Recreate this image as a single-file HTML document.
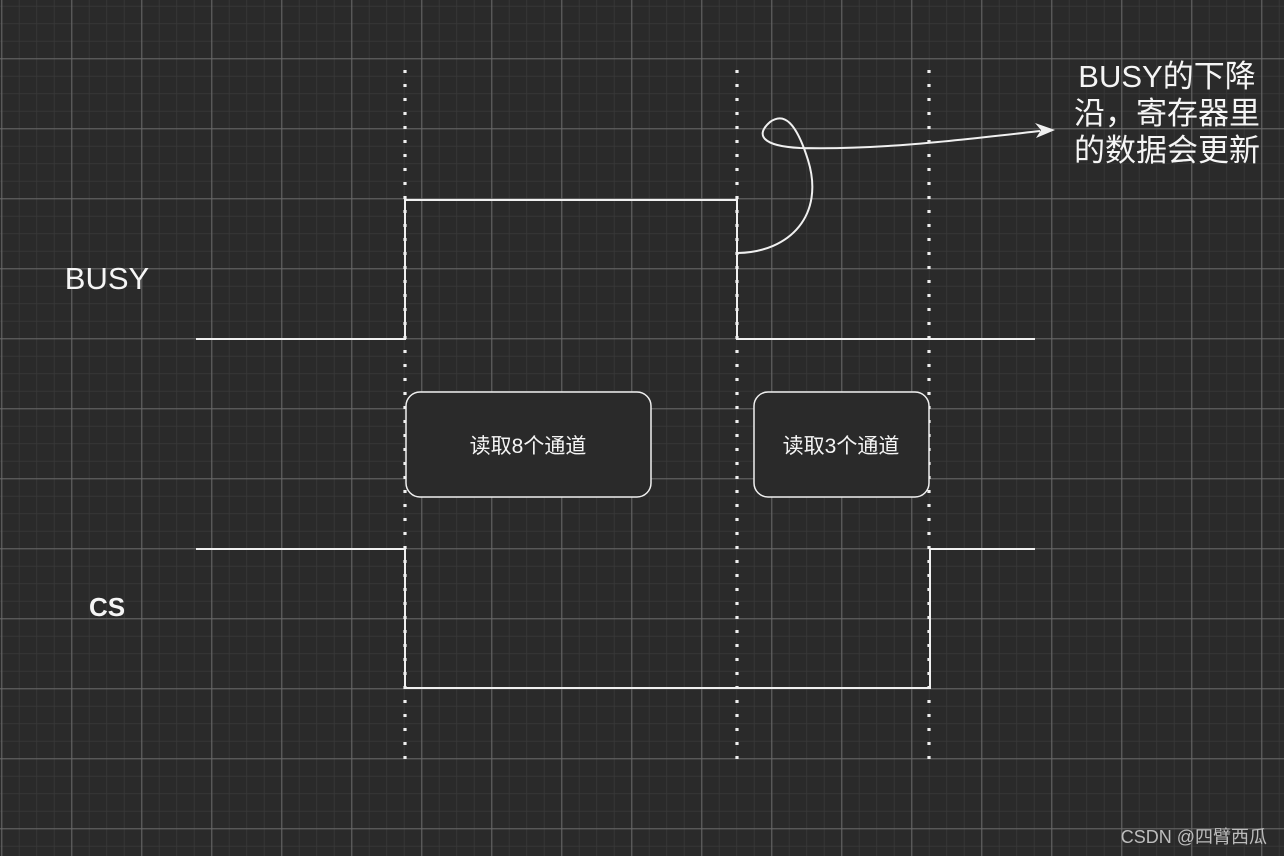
<!DOCTYPE html>
<html><head><meta charset="utf-8"><style>
html,body{margin:0;padding:0;background:#2a2a2a;}
svg{display:block}
</style></head><body>
<svg width="1284" height="856" xmlns="http://www.w3.org/2000/svg">
<defs>
<pattern id="minor" x="1.3" y="-11.7" width="17.5" height="17.5" patternUnits="userSpaceOnUse">
<path d="M0,0 H17.5 M0,0 V17.5" stroke="#3a3a3a" stroke-width="1.5" fill="none"/>
</pattern>
<pattern id="major" x="1.3" y="-11.7" width="70" height="70" patternUnits="userSpaceOnUse">
<path d="M0,0.5 H70 M0.5,0 V70" stroke="#6a6a6a" stroke-width="1" fill="none"/>
</pattern>
</defs>
<rect width="1284" height="856" fill="#2a2a2a"/>
<rect width="1284" height="856" fill="url(#minor)"/>
<rect width="1284" height="856" fill="url(#major)"/>
<g stroke="#f0f0f0" stroke-width="3.2" stroke-dasharray="3 11" fill="none">
<line x1="405" y1="70" x2="405" y2="760"/>
<line x1="737" y1="70" x2="737" y2="760"/>
<line x1="929" y1="70" x2="929" y2="760"/>
</g>
<g stroke="#f0f0f0" stroke-width="2" fill="none">
<path d="M196,339 H405 V200 H737 V339 H1035"/>
<path d="M196,549 H405 V688 H930 V549 H1035"/>
<path d="M738,253 C790,252 825,215 808,160 C796,122 784,112 770,122 C755,135 762,146 800,148 C880,150 960,140 1040,131"/>
<rect x="406" y="392" width="245" height="105" rx="14" fill="#2a2a2a" stroke-width="1.5"/>
<rect x="754" y="392" width="175" height="105" rx="14" fill="#2a2a2a" stroke-width="1.5"/>
</g>
<path d="M1055,130 L1036,138 L1041,130 L1035,123 Z" fill="#f0f0f0"/>
<g fill="#f5f5f5" font-family="Liberation Sans, Noto Sans CJK SC, sans-serif">
<text x="107" y="289" font-size="31" text-anchor="middle">BUSY</text>
<text x="107" y="616" font-size="26" font-weight="bold" text-anchor="middle">CS</text>
<text x="528" y="453" font-size="21" text-anchor="middle">读取8个通道</text>
<text x="841" y="453" font-size="21" text-anchor="middle">读取3个通道</text>
<text x="1167" y="87" font-size="31" text-anchor="middle">BUSY的下降</text>
<text x="1167" y="124" font-size="31" text-anchor="middle">沿，寄存器里</text>
<text x="1167" y="161" font-size="31" text-anchor="middle">的数据会更新</text>
<text x="1267" y="843" font-size="18" fill="#bdbdbd" text-anchor="end">CSDN @四臂西瓜</text>
</g>
</svg>
</body></html>
